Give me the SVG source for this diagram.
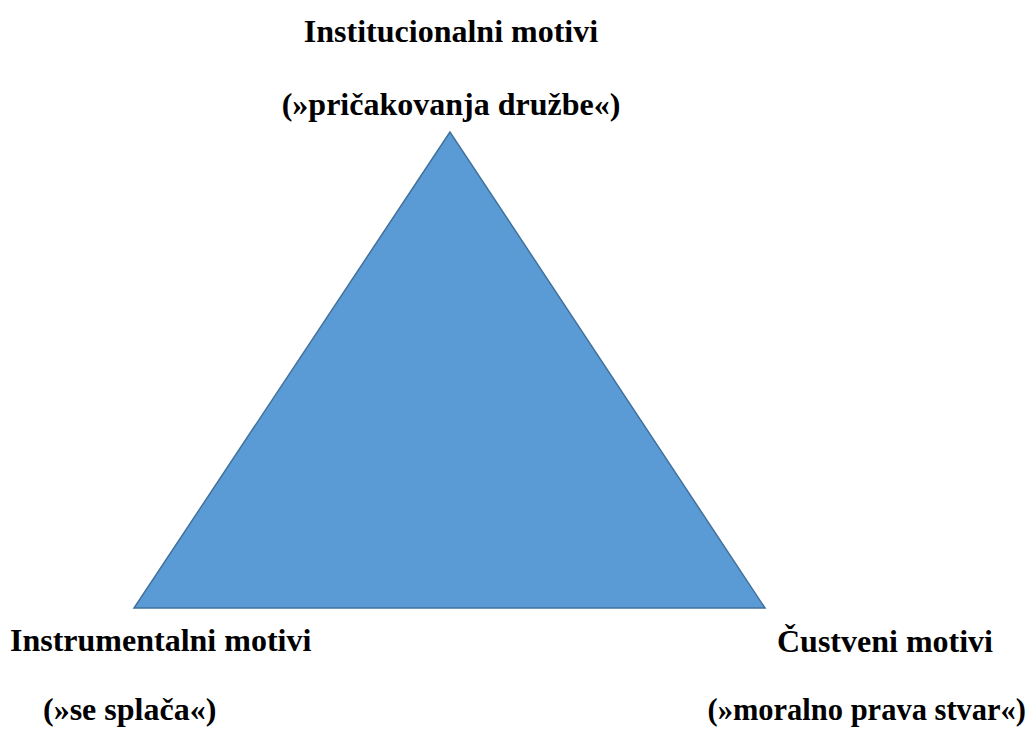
<svg xmlns="http://www.w3.org/2000/svg" width="1031" height="731" viewBox="0 0 1031 731">
<style>
.t{font-family:"Liberation Serif","Times New Roman",serif;font-weight:bold;font-size:32px;fill:#000}
</style>
<rect width="1031" height="731" fill="#fff"/>
<g id="triangle">
<polygon points="450,132 134,608 765,608" fill="#5B9BD5" stroke="#41719C" stroke-width="1.5"/>
</g>
<g id="top">
<text class="t" x="451" y="42" text-anchor="middle">Institucionalni motivi</text>
<text class="t" x="451" y="115" text-anchor="middle">(»pričakovanja družbe«)</text>
</g>
<g id="left">
<text class="t" x="10" y="651">Instrumentalni motivi</text>
<text class="t" x="43" y="720">(»se splača«)</text>
</g>
<g id="right">
<text class="t" x="777" y="652">Čustveni motivi</text>
<text class="t" x="1026" y="720" text-anchor="end" style="font-size:30.5px">(»moralno prava stvar«)</text>
</g>
<g id="connectors"></g>
</svg>
